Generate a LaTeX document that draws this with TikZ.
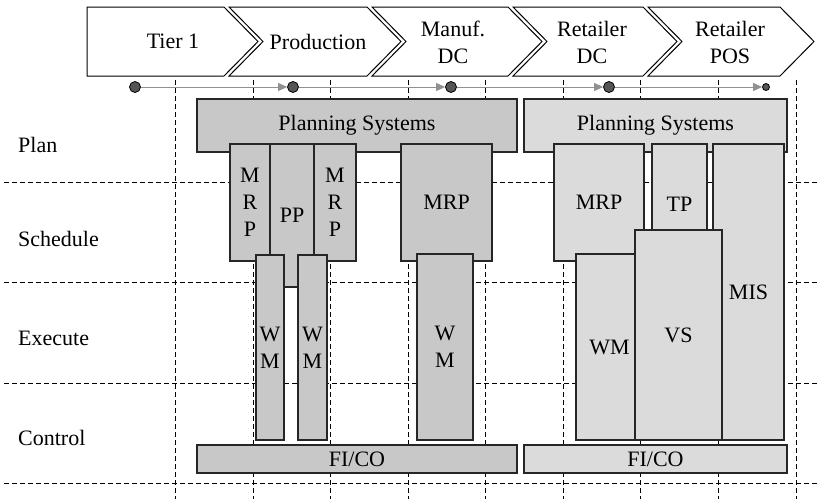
\documentclass[tikz,border=0pt]{standalone}
\usepackage{fontspec}
\setmainfont{Liberation Serif}
\usetikzlibrary{arrows.meta}
\definecolor{boxdark}{RGB}{200,200,200}
\definecolor{boxlight}{RGB}{219,219,219}
\definecolor{dotfill}{RGB}{85,85,85}
\definecolor{tline}{RGB}{145,145,145}
\newcommand\mybox[7]{\node[#1, minimum width={#5-#3}, minimum height={#6-#4}] (#2) at ({(#3+#5)/2},{(#4+#6)/2}) {#7};}
\newcommand\mychev[2]{\draw[chev] (#1,7) -- (#2,7) -- ({#2+34},41.5) -- (#2,76) -- (#1,76) -- ({#1+34},41.5) -- cycle;}
\begin{document}
\begin{tikzpicture}[x=1pt,y=-1pt,
  font=\fontsize{22}{27}\selectfont,
  chev/.style={draw=black, line width=1pt, fill=white},
  sysbox/.style={draw=black!85, line width=1.1pt, inner sep=0pt, align=center, rectangle},
  dk/.style={sysbox, fill=boxdark},
  lt/.style={sysbox, fill=boxlight},
  gridline/.style={draw=black, dash pattern=on 5pt off 3pt, line width=0.9pt},
  tdot/.style={circle, draw=black, fill=dotfill, inner sep=0pt, minimum size=11pt, line width=0.8pt},
  tarrow/.style={draw=tline, line width=1pt, -{Triangle[length=9pt,width=8pt]}},
  chevtext/.style={align=center, inner sep=0pt},
  rowlabel/.style={anchor=west, inner sep=0pt}]
\useasboundingbox (0,0) rectangle (819,499);
% chevrons
\draw[chev] (87,7) -- (224,7) -- (258,41.5) -- (224,76) -- (87,76) -- cycle;
\mychev{229}{367}
\mychev{372}{508}
\mychev{513}{643}
\mychev{648}{780}
\node[chevtext] (c1) at (173,41.5) {Tier 1};
\node[chevtext] (c2) at (318,41.5) {Production};
\node[chevtext] (c3) at (453,42) {Manuf.\\DC};
\node[chevtext] (c4) at (592,42) {Retailer\\DC};
\node[chevtext] (c5) at (730,42) {Retailer\\POS};
% grid
\foreach \gx in {175,253,330,408,485,563,640,718,796}
  \draw[gridline] (\gx,80) -- (\gx,499);
\foreach \gy in {182,282,383,483}
  \draw[gridline] (4,\gy) -- (819,\gy);
% timeline
\node[tdot] (d1) at (135,87) {};
\node[tdot] (d2) at (293,87) {};
\node[tdot] (d3) at (451,87) {};
\node[tdot] (d4) at (609,87) {};
\node[tdot, minimum size=7pt] (d5) at (766,87) {};
\draw[tarrow] (d1) -- (d2);
\draw[tarrow] (d2) -- (d3);
\draw[tarrow] (d3) -- (d4);
\draw[tarrow] (d4) -- (d5);
% row labels
\node[rowlabel] (rplan) at (18,145) {Plan};
\node[rowlabel] (rsched) at (18,239) {Schedule};
\node[rowlabel] (rexec) at (18,338) {Execute};
\node[rowlabel] (rctrl) at (18,438) {Control};
% left systems
\mybox{dk}{planL}{197}{99}{517}{152}{Planning Systems}
\mybox{dk}{mrpa}{230}{144}{270}{261}{M\\R\\P}
\mybox{dk}{pp}{270}{144}{314}{287}{PP}
\mybox{dk}{mrpb}{314}{144}{356}{261}{M\\R\\P}
\mybox{dk}{wma}{256}{255}{284}{440}{W\\M}
\mybox{dk}{wmb}{298}{255}{327}{440}{W\\M}
\mybox{dk}{mrpc}{401}{144}{492}{261}{MRP}
\mybox{dk}{wmc}{417}{254}{473}{440}{W\\M}
\mybox{dk}{ficoL}{197}{445}{517}{473}{FI/CO}
% right systems
\mybox{lt}{planR}{524}{99}{787}{152}{Planning Systems}
\mybox{lt}{mrpr}{554}{144}{644}{261}{MRP}
\mybox{lt}{tp}{652}{144}{707}{264}{TP}
\mybox{lt}{mis}{713}{144}{784}{440}{MIS}
\mybox{lt}{wmr}{576}{254}{635}{440}{\hspace*{8pt}WM}
\mybox{lt}{vs}{635}{230}{722}{440}{VS}
\mybox{lt}{ficoR}{524}{445}{787}{473}{FI/CO}
\end{tikzpicture}
\end{document}
